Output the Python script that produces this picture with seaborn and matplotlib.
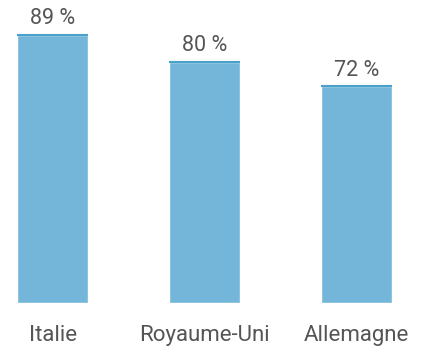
import matplotlib
matplotlib.use("Agg")
import matplotlib.pyplot as plt
import seaborn as sns
import pandas as pd

countries = ["Italie", "Royaume-Uni", "Allemagne"]
shares = [89, 80, 72]

bar_color = "#74b6d9"
top_color = "#4aa2cc"
text_color = "#555555"

sns.set_theme(style="white")
plt.rcParams["font.family"] = ["Roboto", "DejaVu Sans"]

df = pd.DataFrame({"pays": countries, "part": shares})

fig = plt.figure(figsize=(4.22, 3.53), dpi=100)
ax = fig.add_axes([0, 50 / 353, 1, 303 / 353])

bar_w = 0.47
sns.barplot(data=df, x="pays", y="part", color=bar_color, width=bar_w,
            saturation=1, ax=ax)

# darker rim along the top of each bar
for i, v in enumerate(shares):
    ax.hlines(v, i - bar_w / 2, i + bar_w / 2, color=top_color, lw=1.5, zorder=3)

ax.bar_label(ax.containers[0], labels=[f"{v} %" for v in shares],
             padding=4, fontsize=15.5, color=text_color,
             family=["Roboto", "DejaVu Sans"])

ax.set_xlim(-0.347, 2.43)
ax.set_ylim(0, 100.6)
ax.set_xlabel("")
ax.set_ylabel("")
ax.set_yticks([])
ax.tick_params(axis="x", length=0, pad=16, labelsize=16, labelcolor=text_color)
for s in ax.spines.values():
    s.set_visible(False)

fig.savefig("out.png", dpi=100)
